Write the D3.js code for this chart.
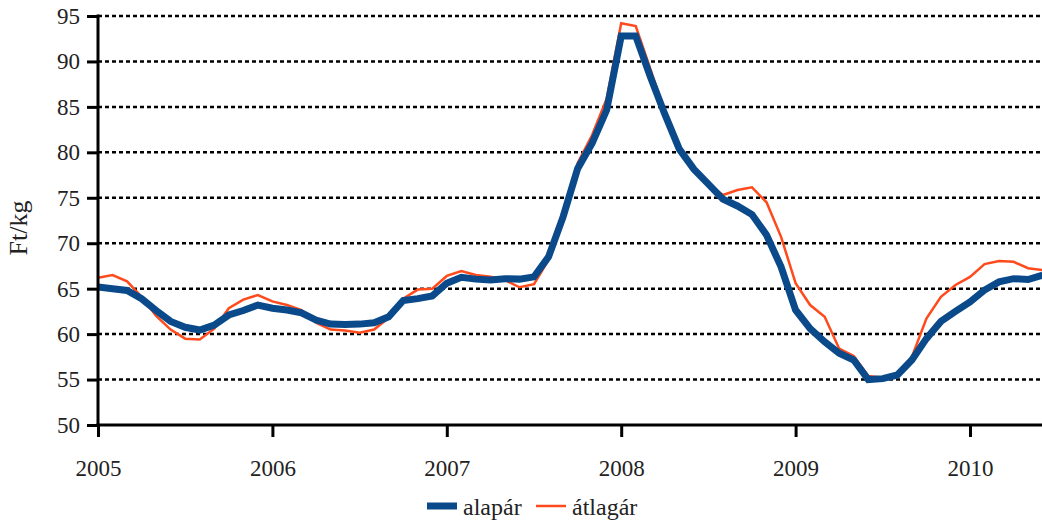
<!DOCTYPE html>
<html>
<head>
<meta charset="utf-8">
<script src="https://cdn.jsdelivr.net/npm/d3@7"></script>
<style>
  body { margin: 0; background: #fff; }
  svg { display: block; font-family: "Liberation Serif", "DejaVu Serif", serif; }
</style>
</head>
<body>
<svg id="chart" width="1042" height="524"></svg>
<script>
// Monthly prices, Jan 2005 - Jun 2010
const yearLabels = ["2005", "2006", "2007", "2008", "2009", "2010"];
const yTicks = [50, 55, 60, 65, 70, 75, 80, 85, 90, 95];

const alapar = [
    65.2, 65.0, 64.8, 63.9, 62.6, 61.4, 60.75, 60.45, 61.0, 62.1, 62.6, 63.2,
    62.85, 62.65, 62.35, 61.55, 61.1, 61.05, 61.1, 61.25, 61.9, 63.7, 63.9, 64.2,
    65.6, 66.25, 66.05, 65.95, 66.1, 66.05, 66.3, 68.5, 72.9, 78.2, 81.0, 84.65,
    92.8, 92.8, 88.35, 84.2, 80.35, 78.15, 76.5, 74.85, 74.1, 73.15, 70.9, 67.4,
    62.65, 60.6, 59.15, 57.9, 57.15, 55.0, 55.1, 55.5, 57.15, 59.5, 61.4, 62.5,
    63.55, 64.85, 65.75, 66.1, 66.0, 66.5
];

const atlagar = [
    66.2, 66.5, 65.8, 64.1, 62.0, 60.5, 59.5, 59.4, 60.6, 62.85, 63.8, 64.3,
    63.6, 63.2, 62.65, 61.25, 60.5, 60.4, 60.15, 60.5, 61.8, 63.9, 64.9, 65.0,
    66.4, 66.95, 66.5, 66.3, 65.95, 65.15, 65.5, 68.15, 73.0, 78.8, 81.9, 85.9,
    94.2, 93.9, 89.2, 84.4, 80.35, 78.2, 76.5, 75.3, 75.85, 76.15, 74.5, 70.7,
    65.6, 63.2, 61.9, 58.4, 57.6, 55.4, 55.2, 55.5, 57.5, 61.7, 64.1, 65.4,
    66.3, 67.7, 68.05, 67.95, 67.25, 67.05
];

const seriesNames = ["alapár", "átlagár"];
const seriesColors = ["#0b4a8a", "#ff4a1c"];

const svg = d3.select("#chart");
const plotLeft = 98, plotRight = 1042, plotTop = 16, plotBottom = 425;
const fontFamily = "'Liberation Serif', 'DejaVu Serif', serif";

// x: month index, one year = 12 months
const x = d3.scaleLinear().domain([0, 60]).range([plotLeft, 970]);
const y = d3.scaleLinear().domain([50, 95]).range([plotBottom, plotTop]);

// dotted gridlines
svg.append("g")
    .selectAll("line")
    .data(yTicks.filter(d => d > 50))
    .enter()
    .append("line")
    .attr("x1", plotLeft)
    .attr("x2", plotRight)
    .attr("y1", d => y(d))
    .attr("y2", d => y(d))
    .attr("stroke", "#000")
    .attr("stroke-width", 2.5)
    .attr("stroke-dasharray", "4,3");

const line = d3.line()
    .x((d, i) => x(i))
    .y(d => y(d));

svg.append("clipPath").attr("id", "clip")
    .append("rect").attr("x", plotLeft).attr("y", 0).attr("width", plotRight - plotLeft).attr("height", plotBottom);

// átlagár under, alapár on top
svg.append("path")
    .datum(atlagar)
    .attr("clip-path", "url(#clip)")
    .attr("fill", "none")
    .attr("stroke", seriesColors[1])
    .attr("stroke-width", 2.5)
    .attr("d", line);

svg.append("path")
    .datum(alapar)
    .attr("clip-path", "url(#clip)")
    .attr("fill", "none")
    .attr("stroke", seriesColors[0])
    .attr("stroke-width", 7)
    .attr("d", line);

// y axis
const yAxis = svg.append("g")
    .attr("transform", `translate(${plotLeft},0)`)
    .call(d3.axisLeft(y).tickValues(yTicks).tickSize(11).tickPadding(7));
yAxis.select(".domain").remove();
yAxis.append("line")
    .attr("x1", 0).attr("x2", 0)
    .attr("y1", plotTop - 1.5).attr("y2", plotBottom + 1.5)
    .attr("stroke", "#000").attr("stroke-width", 3);

// x axis
const xAxis = svg.append("g")
    .attr("transform", `translate(0,${plotBottom})`)
    .call(d3.axisBottom(x)
        .tickValues(yearLabels.map((d, i) => i * 12))
        .tickFormat((d, i) => yearLabels[i])
        .tickSize(12)
        .tickPadding(23));
xAxis.select(".domain").remove();
xAxis.append("line")
    .attr("x1", plotLeft - 1.5).attr("x2", plotRight)
    .attr("y1", 0).attr("y2", 0)
    .attr("stroke", "#000").attr("stroke-width", 3);

svg.selectAll(".tick line").attr("stroke", "#000").attr("stroke-width", 3);
svg.selectAll(".tick text")
    .attr("fill", "#222")
    .style("font-size", "23px")
    .style("font-family", fontFamily);

// y axis title
svg.append("text")
    .attr("transform", "translate(27,228) rotate(-90)")
    .attr("text-anchor", "middle")
    .attr("fill", "#222")
    .style("font-size", "26px")
    .style("font-family", fontFamily)
    .text("Ft/kg");

// legend
const legend = svg.append("g").attr("transform", "translate(427,506)");
const legendX = [0, 109];
seriesNames.forEach((name, i) => {
    const item = legend.append("g").attr("transform", `translate(${legendX[i]},0)`);
    item.append("line")
        .attr("x1", 0).attr("x2", 30)
        .attr("stroke", seriesColors[i])
        .attr("stroke-width", i === 0 ? 7 : 2.5);
    item.append("text")
        .attr("x", 36)
        .attr("y", 9)
        .attr("fill", "#222")
        .style("font-size", "24px")
        .style("font-family", fontFamily)
        .text(name);
});
</script>
</body>
</html>
